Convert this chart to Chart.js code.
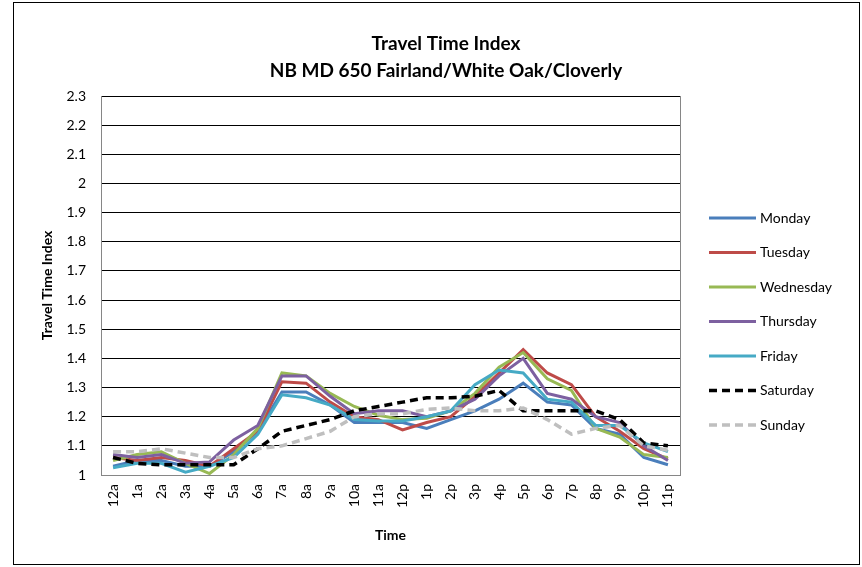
<!DOCTYPE html>
<html lang="en">
<head>
  <meta charset="UTF-8">
  <title>Travel Time Index</title>
  <script src="https://cdn.jsdelivr.net/npm/chart.js"></script>
  <style>
    body { margin: 0; background: #fff; }
    .wrap { width: 862px; height: 567px; }
  </style>
</head>
<body>
  <div class="wrap"><canvas id="tti" width="862" height="567"></canvas></div>

  <script>
    // hours of the day (x axis)
    const hours = ['12a','1a','2a','3a','4a','5a','6a','7a','8a','9a','10a','11a',
                   '12p','1p','2p','3p','4p','5p','6p','7p','8p','9p','10p','11p'];

    // travel time index by day
    const monday    = [1.03,1.05,1.05,1.03,1.03,1.08,1.15,1.285,1.285,1.24,1.18,1.18,1.18,1.16,1.19,1.22,1.26,1.315,1.25,1.24,1.16,1.14,1.06,1.035];
    const tuesday   = [1.06,1.05,1.06,1.05,1.03,1.09,1.15,1.32,1.315,1.25,1.20,1.19,1.155,1.18,1.20,1.27,1.35,1.43,1.35,1.31,1.20,1.15,1.09,1.055];
    const wednesday = [1.05,1.07,1.08,1.04,1.005,1.07,1.16,1.35,1.34,1.28,1.235,1.205,1.19,1.195,1.22,1.28,1.37,1.42,1.33,1.29,1.16,1.13,1.07,1.06];
    const thursday  = [1.07,1.06,1.07,1.04,1.045,1.12,1.17,1.34,1.34,1.27,1.21,1.22,1.22,1.20,1.22,1.26,1.34,1.40,1.28,1.26,1.20,1.18,1.10,1.05];
    const friday    = [1.025,1.04,1.04,1.01,1.03,1.06,1.14,1.275,1.265,1.24,1.19,1.185,1.185,1.20,1.22,1.31,1.36,1.35,1.26,1.25,1.17,1.17,1.11,1.08];
    const saturday  = [1.06,1.04,1.035,1.035,1.035,1.035,1.09,1.15,1.17,1.19,1.22,1.235,1.25,1.265,1.265,1.27,1.29,1.22,1.22,1.22,1.22,1.19,1.11,1.10];
    const sunday    = [1.08,1.08,1.09,1.075,1.06,1.06,1.09,1.10,1.125,1.15,1.20,1.21,1.21,1.225,1.23,1.22,1.22,1.23,1.19,1.14,1.16,1.17,1.10,1.085];

    const dayNames = ['Monday','Tuesday','Wednesday','Thursday','Friday','Saturday','Sunday'];
    const dayData = [monday, tuesday, wednesday, thursday, friday, saturday, sunday];
    const dayColors = ['#4A7EBB','#BE4B48','#98B954','#7D60A0','#46AAC5','#000000','#BFBFBF'];
    const dayDash = [[],[],[],[],[],[8,5],[8,5]];

    const FONT = 'Lato, "Open Sans", sans-serif';

    // title, legend, frame borders
    const decor = {
      id: 'decor',
      beforeDraw(chart) {
        const ctx = chart.ctx;
        ctx.save();
        ctx.fillStyle = '#fff';
        ctx.fillRect(0, 0, chart.width, chart.height);
        ctx.restore();
      },
      afterDraw(chart) {
        const ctx = chart.ctx;
        const a = chart.chartArea;
        ctx.save();
        // outer frame
        ctx.strokeStyle = '#000';
        ctx.lineWidth = 1;
        ctx.strokeRect(13.5, 2.5, 846, 562);
        // plot area right border
        ctx.strokeStyle = '#868686';
        ctx.beginPath();
        ctx.moveTo(Math.round(a.right) + 0.5, a.top);
        ctx.lineTo(Math.round(a.right) + 0.5, a.bottom);
        ctx.stroke();

        // title
        ctx.fillStyle = '#000';
        ctx.font = 'bold 19px ' + FONT;
        ctx.textAlign = 'center';
        ctx.textBaseline = 'middle';
        ctx.fillText('Travel Time Index', 446, 44);
        ctx.fillText('NB MD 650 Fairland/White Oak/Cloverly', 446, 71);

        // legend
        ctx.font = '14px ' + FONT;
        ctx.textAlign = 'left';
        chart.data.datasets.forEach((ds, i) => {
          const y = 218 + i * 34.5;
          ctx.strokeStyle = ds.borderColor;
          ctx.lineWidth = ds.borderWidth;
          ctx.setLineDash(ds.borderDash || []);
          ctx.beginPath();
          ctx.moveTo(709, y);
          ctx.lineTo(756, y);
          ctx.stroke();
          ctx.setLineDash([]);
          ctx.fillStyle = '#000';
          ctx.fillText(ds.label, 760, y);
        });
        ctx.restore();
      }
    };

    new Chart(document.getElementById('tti'), {
      type: 'line',
      data: {
        labels: hours,
        datasets: dayNames.map((name, i) => ({
          label: name,
          data: dayData[i],
          borderColor: dayColors[i],
          backgroundColor: dayColors[i],
          borderWidth: i >= 5 ? 3.5 : 3,
          borderDash: dayDash[i],
          pointRadius: 0,
          tension: 0,
          order: 7 - i
        }))
      },
      options: {
        responsive: false,
        animation: false,
        layout: { padding: { top: 96, right: 182, bottom: 0, left: 14 } },
        plugins: {
          legend: { display: false },
          title: { display: false },
          tooltip: { enabled: false }
        },
        scales: {
          x: {
            offset: true,
            grid: { display: false, drawTicks: false },
            border: { color: '#868686', width: 1 },
            ticks: {
              font: { family: FONT, size: 14 },
              color: '#000',
              minRotation: 90,
              maxRotation: 90,
              padding: 9,
              autoSkip: false
            },
            title: {
              display: true,
              text: 'Time',
              color: '#000',
              font: { family: FONT, size: 14, weight: 'bold' },
              padding: { top: 4, bottom: 23 }
            },
            afterFit(scale) { scale.height = 92; }
          },
          y: {
            min: 1,
            max: 2.3,
            grid: {
              drawTicks: false,
              color: (c) => (c.tick && Math.abs(c.tick.value - 1) < 1e-6) ? 'rgba(0,0,0,0)' : '#000',
              lineWidth: 1
            },
            border: { color: '#868686', width: 1 },
            ticks: {
              stepSize: 0.1,
              font: { family: FONT, size: 14 },
              color: '#000',
              padding: 15,
              callback: (v) => String(Math.round(v * 10) / 10)
            },
            title: {
              display: true,
              text: 'Travel Time Index',
              color: '#000',
              font: { family: FONT, size: 14, weight: 'bold' },
              padding: { top: 25, bottom: 0 }
            },
            afterFit(scale) { scale.width = 87; }
          }
        }
      },
      plugins: [decor]
    });
  </script>
</body>
</html>
